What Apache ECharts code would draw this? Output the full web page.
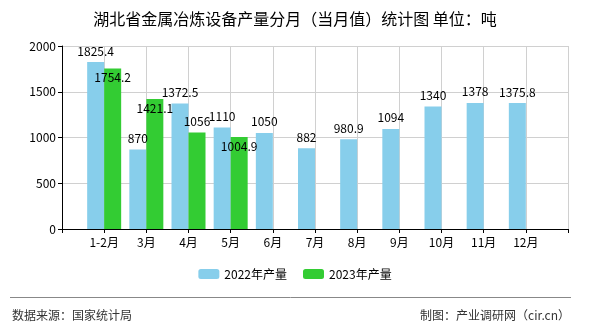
<!DOCTYPE html>
<html>
<head>
<meta charset="utf-8">
<script src="https://cdn.jsdelivr.net/npm/echarts@6/dist/echarts.min.js"></script>
<style>
html,body{margin:0;padding:0;background:#fff;}
#c{width:590px;height:330px;}
</style>
</head>
<body>
<div id="c"></div>
<script>
const categories = ['1-2月','3月','4月','5月','6月','7月','8月','9月','10月','11月','12月'];
const values2022 = [1825.4, 870, 1372.5, 1110, 1050, 882, 980.9, 1094, 1340, 1378, 1375.8];
const values2023 = [1754.2, 1421.1, 1056, 1004.9];
const yTicks = [0, 500, 1000, 1500, 2000];
const seriesNames = ['2022年产量', '2023年产量'];

const font = '"Noto Sans CJK SC", sans-serif';
const cats = [''].concat(categories).concat(['']);
const d2022 = [null].concat(values2022);
while (d2022.length < cats.length) d2022.push(null);
const d2023 = [null].concat(values2023);
while (d2023.length < cats.length) d2023.push(null);
// label placement for 2023 (style only)
const pos2023 = ['insideTop','insideTop','top','insideTop'];
const d2023Items = d2023.map((v, i) => {
  if (v === null) return null;
  const p = pos2023[i - 1] || 'top';
  return { value: v, label: { position: p, distance: p === 'top' ? 5 : 3 } };
});

const chart = echarts.init(document.getElementById('c'), null, {renderer: 'canvas'});
chart.setOption({
  animation: false,
  backgroundColor: '#fff',
  title: {
    text: '湖北省金属冶炼设备产量分月（当月值）统计图 单位：吨',
    left: 'center', top: 6,
    textStyle: {fontSize: 16, fontWeight: 'normal', color: '#000', fontFamily: font}
  },
  legend: {
    bottom: 45, left: 'center',
    itemWidth: 21, itemHeight: 10, itemGap: 16,
    textStyle: {fontSize: 12, color: '#000', fontFamily: font},
    data: seriesNames
  },
  grid: {left: 62, right: 22, top: 46, bottom: 101},
  xAxis: {
    type: 'category',
    boundaryGap: false,
    data: cats,
    axisLine: {lineStyle: {color: '#000'}},
    axisTick: {show: true, length: 4, lineStyle: {color: '#000'}},
    axisLabel: {color: '#000', fontSize: 12, fontFamily: font, margin: 7, interval: 0},
    splitLine: {show: true, lineStyle: {color: '#d0d0d0'}}
  },
  yAxis: {
    type: 'value',
    min: yTicks[0], max: yTicks[yTicks.length - 1], interval: 500,
    axisLine: {show: true, lineStyle: {color: '#000'}},
    axisTick: {show: true, length: 4, lineStyle: {color: '#000'}},
    axisLabel: {color: '#000', fontSize: 12, fontFamily: font, margin: 6, formatter: v => String(v)},
    splitLine: {show: true, lineStyle: {color: '#d0d0d0'}}
  },
  series: [
    {
      name: seriesNames[0], type: 'bar', data: d2022,
      barWidth: 17, barGap: '0%',
      itemStyle: {color: '#87ceeb'},
      label: {show: true, position: 'top', distance: 5, color: '#000', fontSize: 12, fontFamily: font}
    },
    {
      name: seriesNames[1], type: 'bar', data: d2023Items,
      barWidth: 17, barGap: '0%',
      itemStyle: {color: '#33cc33'},
      label: {show: true, color: '#000', fontSize: 12, fontFamily: font}
    }
  ],
  graphic: [
    {type: 'line', shape: {x1: 10, y1: 297.5, x2: 571, y2: 297.5}, style: {stroke: '#888', lineWidth: 1}},
    {type: 'text', left: 12, top: 309, style: {text: '数据来源：国家统计局', fontSize: 12, fill: '#333', fontFamily: font}},
    {type: 'text', right: 20, top: 309, style: {text: '制图：产业调研网（cir.cn）', fontSize: 12, fill: '#333', fontFamily: font}}
  ]
});
</script>
</body>
</html>
